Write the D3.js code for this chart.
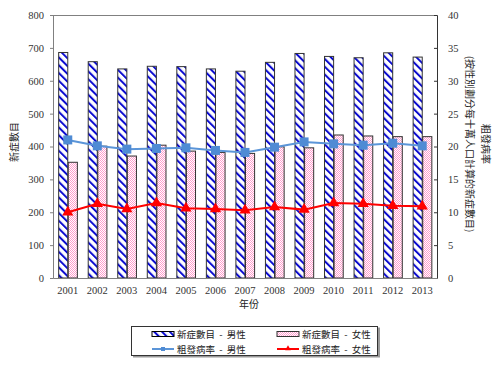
<!DOCTYPE html>
<html><head><meta charset="utf-8">
<script src="https://cdn.jsdelivr.net/npm/d3@7"></script>
<style>body{margin:0;background:#fff}svg{display:block}</style>
</head><body><svg id="c" width="500" height="377"></svg>
<script>
const years = ["2001","2002","2003","2004","2005","2006","2007","2008","2009","2010","2011","2012","2013"];
const maleCases = [686,658,636,644,643,636,629,656,683,674,670,685,672];
const femaleCases = [352,401,371,404,386,382,379,399,396,435,432,430,430];
const maleRate = [21.0,20.1,19.6,19.7,19.8,19.4,19.1,19.9,20.7,20.4,20.2,20.5,20.1];
const femaleRate = [10.0,11.3,10.5,11.4,10.6,10.5,10.3,10.8,10.4,11.4,11.3,11.0,10.9];
const leftTicks = [0,100,200,300,400,500,600,700,800];
const rightTicks = [0,5,10,15,20,25,30,35,40];
const legendLabels = ["新症數目  -  男性","新症數目  -  女性","粗發病率  -  男性","粗發病率  -  女性"];

const svg = d3.select("#c");
const L=53,R=437,T=15,B=278;
const defs = svg.append("defs");
const pm = defs.append("pattern").attr("id","pm").attr("patternUnits","userSpaceOnUse")
  .attr("width",5.5).attr("height",5.5).attr("patternTransform","rotate(-45)");
pm.append("rect").attr("width",5.5).attr("height",5.5).attr("fill","#fff");
pm.append("rect").attr("x",0).attr("width",2).attr("height",5.5).attr("fill","#0a0ad0");
const pf = defs.append("pattern").attr("id","pf").attr("patternUnits","userSpaceOnUse")
  .attr("width",2).attr("height",2);
pf.append("rect").attr("width",2).attr("height",2).attr("fill","#fff");
pf.append("rect").attr("width",1).attr("height",1).attr("fill","#ff9ccc");
pf.append("rect").attr("x",1).attr("y",1).attr("width",1).attr("height",1).attr("fill","#ff9ccc");

const x = d3.scaleBand().domain(years).range([L,R]).paddingInner(0.35).paddingOuter(0.175);
const xs = d3.scaleBand().domain(["m","f"]).range([0,x.bandwidth()]);
const y = d3.scaleLinear().domain([0,800]).range([B,T]);
const y2 = d3.scaleLinear().domain([0,40]).range([B,T]);

// frame top
svg.append("line").attr("x1",L).attr("x2",R).attr("y1",T+0.5).attr("y2",T+0.5).attr("stroke","#808080");

// bars
const g = svg.append("g");
years.forEach((yr,i)=>{
  g.append("rect").attr("x",x(yr)+xs("m")+0.5).attr("y",y(maleCases[i])).attr("width",xs.bandwidth()-0.5)
   .attr("height",B-y(maleCases[i])).attr("fill","url(#pm)").attr("stroke","#333").attr("stroke-width",1);
  g.append("rect").attr("x",x(yr)+xs("f")+0.5).attr("y",y(femaleCases[i])).attr("width",xs.bandwidth()-0.5)
   .attr("height",B-y(femaleCases[i])).attr("fill","url(#pf)").attr("stroke","#333").attr("stroke-width",1);
});

const font = "'Liberation Serif','Times New Roman',serif";
// axes
const ax = svg.append("g").attr("transform",`translate(${L},0)`)
  .call(d3.axisLeft(y).tickValues(leftTicks).tickSize(3).tickPadding(6));
ax.select(".domain").attr("stroke","#808080");
ax.selectAll(".tick line").attr("stroke","#808080");
ax.selectAll("text").attr("font-family",font).attr("font-size",10.5).attr("fill","#333");

const ar = svg.append("g").attr("transform",`translate(${R},0)`)
  .call(d3.axisRight(y2).tickValues(rightTicks).tickSize(-3).tickPadding(11));
ar.select(".domain").attr("stroke","#333");
ar.selectAll(".tick line").attr("stroke","#333");
ar.selectAll("text").attr("font-family",font).attr("font-size",10.5).attr("fill","#333");

const ab = svg.append("g").attr("transform",`translate(0,${B})`)
  .call(d3.axisBottom(x).tickSize(0).tickPadding(9));
ab.select(".domain").attr("stroke","#808080");
ab.selectAll("text").attr("font-family",font).attr("font-size",10.5).attr("fill","#333");

// lines
const cx = yr => x(yr)+x.bandwidth()/2;
const line = d3.line().x((d,i)=>cx(years[i])).y(d=>y2(d));
svg.append("path").datum(maleRate).attr("d",line).attr("fill","none").attr("stroke","#5b95d8").attr("stroke-width",2);
svg.append("path").datum(femaleRate).attr("d",line).attr("fill","none").attr("stroke","#ff0000").attr("stroke-width",2);
svg.selectAll(".sq").data(maleRate).enter().append("rect")
  .attr("x",(d,i)=>cx(years[i])-4.5).attr("y",d=>y2(d)-4.5).attr("width",9).attr("height",9).attr("fill","#4f8bd4");
const tri = d3.symbol().type(d3.symbolTriangle).size(55);
svg.selectAll(".tr").data(femaleRate).enter().append("path")
  .attr("d",tri).attr("transform",(d,i)=>`translate(${cx(years[i])},${y2(d)})`).attr("fill","#ff0000");

// titles
const cjk = "'Noto Sans CJK TC','Noto Sans CJK SC',sans-serif";
svg.append("text").attr("transform","translate(18,142) rotate(-90)").attr("text-anchor","middle")
  .attr("font-family",cjk).attr("font-size",10).attr("fill","#222").text("新症數目");
svg.append("text").attr("x",249).attr("y",308).attr("text-anchor","middle")
  .attr("font-family",cjk).attr("font-size",10).attr("fill","#222").text("年份");
const rt = svg.append("text").attr("transform","translate(482,144) rotate(90)").attr("text-anchor","middle")
  .attr("font-family",cjk).attr("font-size",10).attr("fill","#222");
rt.append("tspan").attr("x",0).attr("y",0).text("粗發病率");
rt.append("tspan").attr("x",0).attr("y",0).attr("dy",16).text("(按性別劃分每十萬人口計算的新症數目)");

// legend
const lg = svg.append("g");
lg.append("rect").attr("x",133).attr("y",327.5).attr("width",247).attr("height",30).attr("fill","#999");
lg.append("rect").attr("x",131.5).attr("y",326.5).attr("width",246).attr("height",29).attr("fill","#fff").attr("stroke","#333");
const lx=[152,277], ly=[334,349];
lg.append("rect").attr("x",lx[0]).attr("y",ly[0]-2.5).attr("width",22).attr("height",5).attr("fill","url(#pm)").attr("stroke","#000");
lg.append("rect").attr("x",lx[1]).attr("y",ly[0]-2.5).attr("width",22).attr("height",5).attr("fill","url(#pf)").attr("stroke","#333");
lg.append("line").attr("x1",lx[0]).attr("x2",lx[0]+22).attr("y1",ly[1]).attr("y2",ly[1]).attr("stroke","#5b95d8").attr("stroke-width",2);
lg.append("rect").attr("x",lx[0]+9).attr("y",ly[1]-2).attr("width",4).attr("height",4).attr("fill","#4f8bd4");
lg.append("line").attr("x1",lx[1]).attr("x2",lx[1]+22).attr("y1",ly[1]).attr("y2",ly[1]).attr("stroke","#ff0000").attr("stroke-width",2);
lg.append("path").attr("d",d3.symbol().type(d3.symbolTriangle).size(14)).attr("transform",`translate(${lx[1]+11},${ly[1]-0.5})`).attr("fill","#ff0000");
legendLabels.forEach((t,i)=>{
  lg.append("text").attr("x",lx[i%2]+25).attr("y",ly[Math.floor(i/2)]+3.5).attr("xml:space","preserve")
    .style("white-space","pre")
    .attr("font-family",cjk).attr("font-size",9.5).attr("fill","#222").text(t);
});
</script></body></html>
